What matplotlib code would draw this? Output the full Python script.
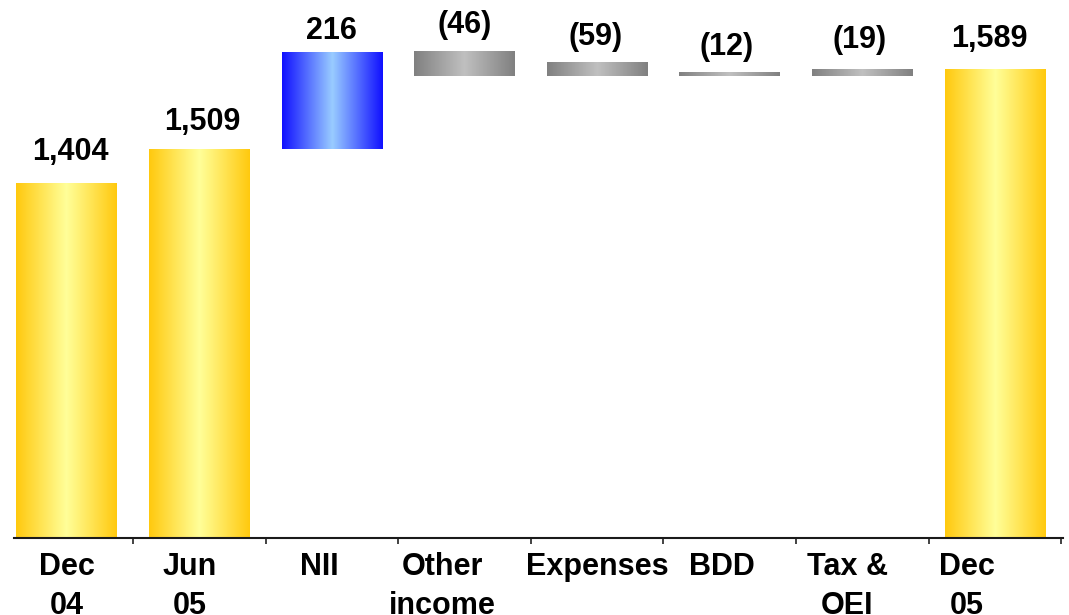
import numpy as np
import matplotlib
matplotlib.use("Agg")
import matplotlib.pyplot as plt
from matplotlib.colors import to_rgb

# ---- data ----
categories = ["Dec\n04", "Jun\n05", "NII", "Other\nincome", "Expenses", "BDD", "Tax &\nOEI", "Dec\n05"]
values = [1404, 1509, 216, -46, -59, -12, -19, 1589]
kinds = ["total", "total", "up", "down", "down", "down", "down", "total"]
# drawn bar extents as they appear in the picture (chart is not drawn to scale)
bar_bottom = [0, 0, 1537, 1827, 1827, 1827, 1827, 0]
bar_top = [1404, 1537, 1918, 1925, 1881, 1842, 1854, 1854]

# ---- layout / style ----
label_gap_pt = [16, 14, 10, 13, 12, 12, 15, 16]
label_shift_pt = [3, 2, 0, 0, -1, -2, -2, -4]
tick_shift_pt = [0, -7, -9, -16, 0, -6, -11, -20]
grad_colors = {
    "total": ("#FFC90E", "#FFFF99"),
    "up": ("#1010FF", "#99CCFF"),
    "down": ("#808080", "#C0C0C0"),
}
FONT = ["Liberation Sans", "DejaVu Sans"]

W, H = 1069, 615
fig = plt.figure(figsize=(W / 100, H / 100), dpi=100)
base_px = 537.7
ax = fig.add_axes([14 / W, (H - base_px) / H, 1049 / W, base_px / H])

x = np.arange(len(categories))
heights = [t - b for t, b in zip(bar_top, bar_bottom)]
bars = ax.bar(x, heights, bottom=bar_bottom, width=0.758, color="none",
              linewidth=0, zorder=2)

n = 256
t = 1 - np.abs(np.linspace(-1, 1, n))
for rect, kind in zip(bars, kinds):
    edge, center = (np.array(to_rgb(c)) for c in grad_colors[kind])
    grad = edge[None, :] + (center - edge)[None, :] * t[:, None]
    img = grad[None, :, :]
    x0, y0 = rect.get_x(), rect.get_y()
    ax.imshow(img, extent=[x0, x0 + rect.get_width(), y0, y0 + rect.get_height()],
              aspect="auto", interpolation="bilinear", zorder=2, clip_path=rect)

# value labels
for i, (v, top, gap, dx) in enumerate(zip(values, bar_top, label_gap_pt, label_shift_pt)):
    txt = f"{v:,}" if v >= 0 else f"({-v:,})"
    ax.annotate(txt, (x[i], top), xytext=(dx, gap), textcoords="offset points",
                ha="center", va="baseline", fontsize=22, fontweight="bold",
                family=FONT, color="black")

# category labels
for i, (lab, dx) in enumerate(zip(categories, tick_shift_pt)):
    ax.annotate(lab, (x[i], 0), xycoords=("data", "axes fraction"),
                xytext=(dx, -10), textcoords="offset points",
                ha="center", va="top", fontsize=22, fontweight="bold",
                family=FONT, color="black", linespacing=1.4,
                annotation_clip=False)

ax.set_xlim(-0.397, 7.513)
ax.set_ylim(0, base_px / (355 / 1404))
for s in ["top", "left", "right"]:
    ax.spines[s].set_visible(False)
ax.spines["bottom"].set_linewidth(1.5)
ax.spines["bottom"].set_color("#1a1a1a")
ax.spines["bottom"].set_zorder(3)
ax.set_yticks([])
ax.set_xticks(x)
ax.set_xticklabels([])
ax.tick_params(axis="x", which="major", length=0)
ax.set_xticks(np.arange(0.5, len(categories), 1.0), minor=True)
ax.tick_params(axis="x", which="minor", length=4.5, width=1.2, color="#222222",
               direction="out")

fig.savefig("out.png", dpi=100)
